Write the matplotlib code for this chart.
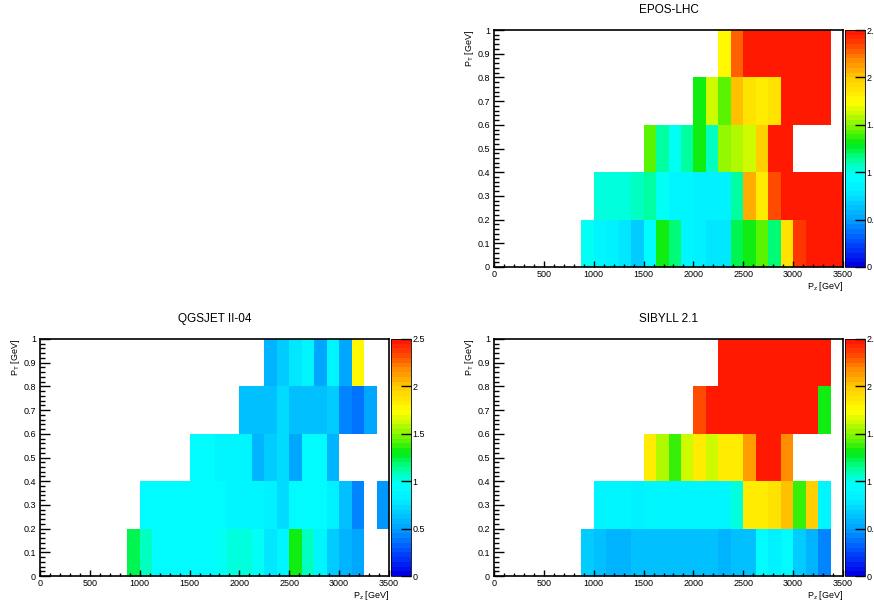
import numpy as np
import matplotlib
matplotlib.use("Agg")
import matplotlib.pyplot as plt
from matplotlib.colors import ListedColormap, LinearSegmentedColormap, Normalize
from matplotlib.ticker import MultipleLocator

plt.rcParams['font.family'] = ['Liberation Sans', 'DejaVu Sans']
plt.rcParams['mathtext.fontset'] = 'custom'
plt.rcParams['mathtext.rm'] = 'Liberation Sans'
plt.rcParams['mathtext.it'] = 'Liberation Sans:italic'

_ = np.nan

# bin edges
pz_edges = np.arange(0, 3501, 125)
pt_edges = np.array([0.0, 0.2, 0.4, 0.6, 0.8, 1.0])

# ratio values per (pT row, pz bin), nan = empty bin
epos = [
    [_, _, _, _, _, _, _, 0.98, 0.88, 0.80, 0.75, 0.70, 0.90, 1.30, 1.15, 0.88, 0.80, 0.75, 0.77, 1.20, 1.33, 1.45, 1.18, 1.85, 2.35, 2.70, 2.80, 2.90],
    [_, _, _, _, _, _, _, _, 1.03, 1.03, 1.03, 1.06, 1.10, 0.97, 0.88, 0.87, 0.80, 0.82, 0.83, 1.12, 2.05, 1.82, 2.30, 2.70, 2.90, 3.00, 2.80, 2.90],
    [_, _, _, _, _, _, _, _, _, _, _, _, 1.45, 1.14, 0.97, 1.10, 1.32, 1.07, 1.50, 1.57, 1.62, 1.95, 2.60, 2.80, _, _, _, _],
    [_, _, _, _, _, _, _, _, _, _, _, _, _, _, _, _, 1.33, 1.65, 1.45, 2.00, 1.85, 1.80, 1.85, 2.70, 2.90, 2.80, 3.00, _],
    [_, _, _, _, _, _, _, _, _, _, _, _, _, _, _, _, _, _, 1.78, 2.28, 2.70, 2.80, 2.90, 3.00, 2.80, 2.70, 2.90, _],
]

qgsjet = [
    [_, _, _, _, _, _, _, 1.20, 1.07, 0.94, 0.94, 0.94, 0.94, 0.94, 0.99, 1.00, 1.00, 0.99, 0.75, 0.88, 1.32, 1.07, 0.88, 0.66, 0.55, 0.50, _, _],
    [_, _, _, _, _, _, _, _, 0.93, 0.93, 0.93, 0.93, 0.93, 0.93, 0.93, 0.88, 0.86, 0.85, 0.80, 0.74, 0.92, 0.92, 0.90, 0.80, 0.62, 0.42, _, 0.45],
    [_, _, _, _, _, _, _, _, _, _, _, _, 0.92, 0.91, 0.85, 0.88, 0.88, 0.58, 0.66, 0.72, 0.52, 0.92, 0.91, 0.58, _, _, _, _],
    [_, _, _, _, _, _, _, _, _, _, _, _, _, _, _, _, 0.60, 0.64, 0.60, 0.72, 0.62, 0.62, 0.62, 0.68, 0.40, 0.37, 0.52, _],
    [_, _, _, _, _, _, _, _, _, _, _, _, _, _, _, _, _, _, 0.57, 0.66, 0.78, 0.88, 0.50, 0.85, 0.52, 1.78, _, _],
]

sibyll = [
    [_, _, _, _, _, _, _, 0.70, 0.63, 0.55, 0.55, 0.60, 0.60, 0.60, 0.60, 0.60, 0.60, 0.63, 0.55, 0.63, 0.63, 0.92, 0.84, 0.90, 0.66, 0.55, 0.40, _],
    [_, _, _, _, _, _, _, _, 0.88, 0.88, 0.88, 0.84, 0.86, 0.86, 0.86, 0.86, 0.86, 0.86, 0.88, 1.03, 1.80, 1.82, 1.85, 2.00, 1.35, 1.95, 0.88, _],
    [_, _, _, _, _, _, _, _, _, _, _, _, 1.80, 1.55, 1.38, 1.60, 1.80, 1.60, 1.82, 1.82, 2.10, 2.70, 2.80, 2.15, _, _, _, _],
    [_, _, _, _, _, _, _, _, _, _, _, _, _, _, _, _, 2.30, 2.70, 2.80, 2.90, 3.00, 2.80, 2.70, 2.90, 2.80, 2.70, 1.30, _],
    [_, _, _, _, _, _, _, _, _, _, _, _, _, _, _, _, _, _, 2.80, 2.90, 3.00, 2.80, 2.70, 2.90, 2.80, 3.00, 2.90, _],
]

# ROOT-like 50 step rainbow palette
anchors = [
    (0.00, (0, 0, 230)), (0.25, (0, 80, 255)), (0.50, (0, 165, 255)),
    (0.80, (0, 240, 255)), (0.95, (0, 255, 255)), (1.05, (0, 255, 205)),
    (1.15, (0, 255, 140)), (1.30, (0, 235, 20)), (1.45, (100, 245, 0)),
    (1.60, (190, 250, 0)), (1.75, (255, 255, 0)), (2.00, (255, 205, 0)),
    (2.20, (255, 140, 0)), (2.40, (255, 55, 0)), (2.50, (255, 25, 0)),
]
smooth = LinearSegmentedColormap.from_list(
    'root', [(v / 2.5, tuple(c / 255 for c in rgb)) for v, rgb in anchors])
cmap = ListedColormap(smooth(np.linspace(0, 1, 50)))
norm = Normalize(0, 2.5)

fig = plt.figure(figsize=(8.74, 6.05), dpi=100)
W, H = 874, 605


def px_box(x0, y0, x1, y1):
    return [x0 / W, 1 - y1 / H, (x1 - x0) / W, (y1 - y0) / H]


panels = [
    ('EPOS-LHC', epos, (494, 30, 843, 267), (845, 30, 865, 267), 10),
    ('QGSJET II-04', qgsjet, (40, 339, 389, 576), (391, 339, 411, 576), 319),
    ('SIBYLL 2.1', sibyll, (494, 339, 843, 576), (845, 339, 865, 576), 319),
]

for title, vals, box, cbox, ty in panels:
    ax = fig.add_axes(px_box(*box))
    data = np.ma.masked_invalid(np.array(vals, dtype=float))
    mesh = ax.pcolormesh(pz_edges, pt_edges, data, cmap=cmap, norm=norm)
    ax.set_xlim(0, 3500)
    ax.set_ylim(0, 1)
    ax.xaxis.set_major_locator(MultipleLocator(500))
    ax.xaxis.set_minor_locator(MultipleLocator(100))
    ax.yaxis.set_minor_locator(MultipleLocator(0.02))
    ax.set_yticks(np.arange(0, 1.01, 0.1))
    ax.set_yticklabels(['0', '0.1', '0.2', '0.3', '0.4', '0.5', '0.6', '0.7', '0.8', '0.9', '1'])
    ax.tick_params(axis='x', which='major', direction='in', length=4, width=1, labelsize=6.5, pad=2.5)
    ax.tick_params(axis='x', which='minor', direction='in', length=2, width=1)
    ax.tick_params(axis='y', which='major', direction='in', length=7.5, width=1, labelsize=6.5, pad=3)
    ax.tick_params(axis='y', which='minor', direction='in', length=3.8, width=1)
    for s in ax.spines.values():
        s.set_linewidth(1.2)
    ax.text(1.0, -0.082, r'P$_{\mathrm{z}}$ [GeV]', transform=ax.transAxes,
            ha='right', va='center', fontsize=6.5)
    ax.text(-0.07, 1.0, r'P$_{\mathrm{T}}$ [GeV]', transform=ax.transAxes,
            ha='center', va='top', rotation=90, fontsize=6.5)
    fig.text((box[0] + box[2]) / 2 / W, 1 - ty / H, title, ha='center', va='center', fontsize=8.5)

    cax = fig.add_axes(px_box(*cbox))
    cb = fig.colorbar(mesh, cax=cax, ticks=[0, 0.5, 1, 1.5, 2, 2.5])
    cb.ax.set_yticklabels(['0', '0.5', '1', '1.5', '2', '2.5'])
    cb.ax.minorticks_off()
    cb.ax.tick_params(direction='in', length=7, width=1, labelsize=6.5, pad=1)
    cb.outline.set_linewidth(0.6)

fig.savefig('out.png', dpi=100)
